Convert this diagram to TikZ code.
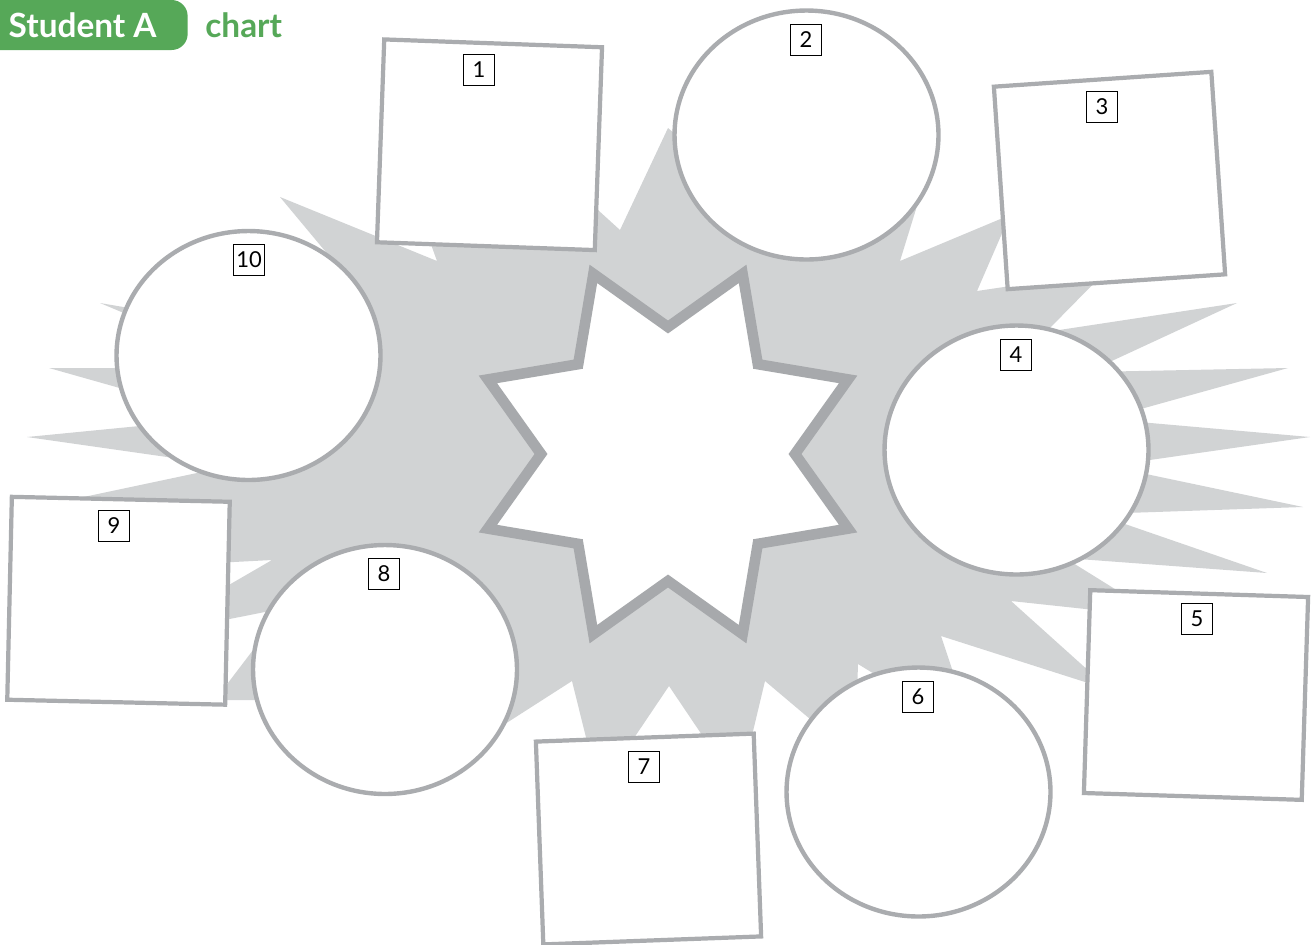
\documentclass[tikz,border=0pt]{standalone}
\usepackage{fontspec}
\setmainfont{Lato}
\usetikzlibrary{shapes.geometric,positioning}
\definecolor{burstgrey}{RGB}{209,211,212}
\definecolor{stargrey}{RGB}{167,169,172}
\definecolor{framegrey}{RGB}{170,172,175}
\definecolor{tabgreen}{RGB}{86,168,88}

\begin{document}
\begin{tikzpicture}[x=0.02cm, y=-0.02cm,
  burst/.style={fill=burstgrey},
  starline/.style={draw=stargrey, fill=white, line width=6pt, miter limit=20},
  answerbox/.style={draw=framegrey, line width=2.4pt, fill=white, minimum width=4.36cm, minimum height=4.06cm, inner sep=0},
  answeroval/.style={ellipse, draw=framegrey, line width=2.5pt, fill=white, minimum width=5.28cm, minimum height=4.98cm, inner sep=0},
  numtag/.style={draw=black, line width=0.6pt, fill=white, minimum size=17.5pt, inner sep=0, font=\fontsize{12.5}{12.5}\selectfont},
  tab/.style={fill=tabgreen, rounded corners=0.32cm, minimum width=4.2cm, minimum height=1cm, text=white, font=\fontsize{19}{19}\selectfont\bfseries},
  titleword/.style={inner sep=0, text=tabgreen, font=\fontsize{19}{19}\selectfont\bfseries}
]
\useasboundingbox (0,0) rectangle (1315,944);

\fill[burst] (668,128) -- (790,230) -- (925,180) -- (900,261) -- (1010,215) -- (977,291)
  -- (1105,272) -- (1046,332) -- (1237,303) -- (1088,372) -- (1288,368) -- (1105,419)
  -- (1310,437) -- (1108,466) -- (1303,507) -- (1096,514) -- (1267,573) -- (1065,558)
  -- (1160,617) -- (1011,601) -- (1110,690) -- (941,636) -- (974,735) -- (858,664)
  -- (855,757) -- (765,681) -- (739,790) -- (669,686) -- (599,790) -- (572,681)
  -- (480,740) -- (330,700) -- (215,700) -- (285,608) -- (139,637) -- (272,560)
  -- (120,568) -- (180,540) -- (60,502) -- (230,466) -- (27,437) -- (160,424)
  -- (155,398) -- (49,368) -- (150,368) -- (150,324) -- (100,303) -- (170,315)
  -- (345,275) -- (280,197) -- (437,261) -- (424,225) -- (490,235) -- (565,180)
  -- (620,230) -- cycle;

\coordinate (starcentre) at (668,454);
\draw[starline, shift={(starcentre)}] (0:127)
  \foreach \a in {45,90,...,315} { -- (\a-22.5:195) -- (\a:127) } -- (337.5:195) -- cycle;

\node[answerbox, rotate=-2.06] (box1) at (489.5,144.75) {};
\node[answeroval] (oval2) at (806.5,135) {};
\node[answerbox, rotate=3.9] (box3) at (1109.5,180.5) {};
\node[answeroval] (oval4) at (1016.5,450) {};
\node[answerbox, rotate=-1.8] (box5) at (1196,695) {};
\node[answeroval] (oval6) at (918.5,792) {};
\node[answerbox, rotate=2.1] (box7) at (648.5,839) {};
\node[answeroval] (oval8) at (385,669.5) {};
\node[answerbox, rotate=-1.3] (box9) at (118.5,600.75) {};
\node[answeroval] (oval10) at (248.5,355.5) {};

\node[numtag] (tag1) at (479,70) {1};
\node[numtag] (tag2) at (806,40) {2};
\node[numtag] (tag3) at (1102,107) {3};
\node[numtag] (tag4) at (1016,355) {4};
\node[numtag] (tag5) at (1197,619) {5};
\node[numtag] (tag6) at (918,697) {6};
\node[numtag] (tag7) at (644,767) {7};
\node[numtag] (tag8) at (384,574) {8};
\node[numtag] (tag9) at (114,526) {9};
\node[numtag] (tag10) at (249,260) {10};

\node[tab, anchor=east] (studenttab) at (188,25) {Student A};
\node[titleword, right=0.34cm of studenttab] (chartword) {chart};
\end{tikzpicture}
\end{document}
